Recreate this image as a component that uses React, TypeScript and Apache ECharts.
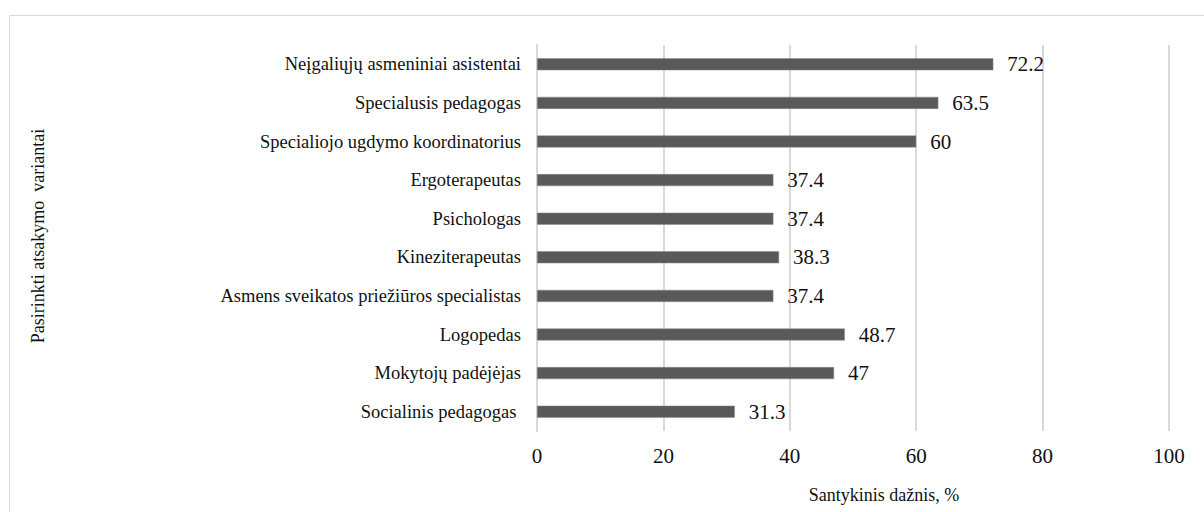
import React, { useEffect, useRef } from "react";
import * as echarts from "echarts";

const categories = [
  "Socialinis pedagogas ",
  "Mokytojų padėjėjas",
  "Logopedas",
  "Asmens sveikatos priežiūros specialistas",
  "Kineziterapeutas",
  "Psichologas",
  "Ergoterapeutas",
  "Specialiojo ugdymo koordinatorius",
  "Specialusis pedagogas",
  "Neįgaliųjų asmeniniai asistentai",
];
const values = [31.3, 47, 48.7, 37.4, 38.3, 37.4, 37.4, 60, 63.5, 72.2];
const xTitle = "Santykinis dažnis, %";
const yTitle = "Pasirinkti atsakymo  variantai";

const FONT = "Times New Roman, Liberation Serif, DejaVu Serif, serif";

export default function App() {
  const ref = useRef<HTMLDivElement>(null);
  useEffect(() => {
    if (!ref.current) return;
    const chart = echarts.init(ref.current, undefined, { renderer: "svg" });
    chart.setOption({
      animation: false,
      backgroundColor: "#ffffff",
      textStyle: { fontFamily: FONT },
      grid: { left: 537, right: 35, top: 45, bottom: 81, containLabel: false },
      xAxis: {
        type: "value",
        min: 0,
        max: 100,
        interval: 20,
        axisLine: { show: false },
        axisTick: { show: false },
        splitLine: { show: true, lineStyle: { color: "#d9d9d9", width: 2 } },
        axisLabel: { color: "#111", fontFamily: FONT, fontSize: 21, margin: 14 },
      },
      yAxis: {
        type: "category",
        data: categories,
        axisLine: { show: true, lineStyle: { color: "#d9d9d9", width: 2 } },
        axisTick: { show: false },
        axisLabel: { color: "#111", fontFamily: FONT, fontSize: 18.5, margin: 16 },
      },
      series: [
        {
          type: "bar",
          data: values,
          barWidth: 12,
          itemStyle: { color: "#595959", borderColor: "#8a8a8a", borderWidth: 0.5 },
          label: {
            show: true,
            position: "right",
            distance: 14,
            color: "#111",
            fontFamily: FONT,
            fontSize: 21,
          },
        },
      ],
      graphic: [
        {
          type: "rect",
          shape: { x: 9.5, y: 15.5, width: 1300, height: 600 },
          style: { fill: "none", stroke: "#d9d9d9", lineWidth: 1 },
          silent: true,
        },
        {
          type: "text",
          x: 884,
          y: 495,
          style: {
            text: xTitle,
            fill: "#111",
            fontFamily: FONT,
            fontSize: 18,
            align: "center",
            verticalAlign: "middle",
          },
        },
        {
          type: "text",
          x: 38,
          y: 236,
          rotation: Math.PI / 2,
          style: {
            text: yTitle,
            fill: "#111",
            fontFamily: FONT,
            fontSize: 18,
            align: "center",
            verticalAlign: "middle",
          },
        },
      ],
    });
    return () => chart.dispose();
  }, []);
  return (
    <div
      ref={ref}
      style={{ position: "fixed", left: 0, top: 0, width: 1204, height: 512 }}
    />
  );
}
